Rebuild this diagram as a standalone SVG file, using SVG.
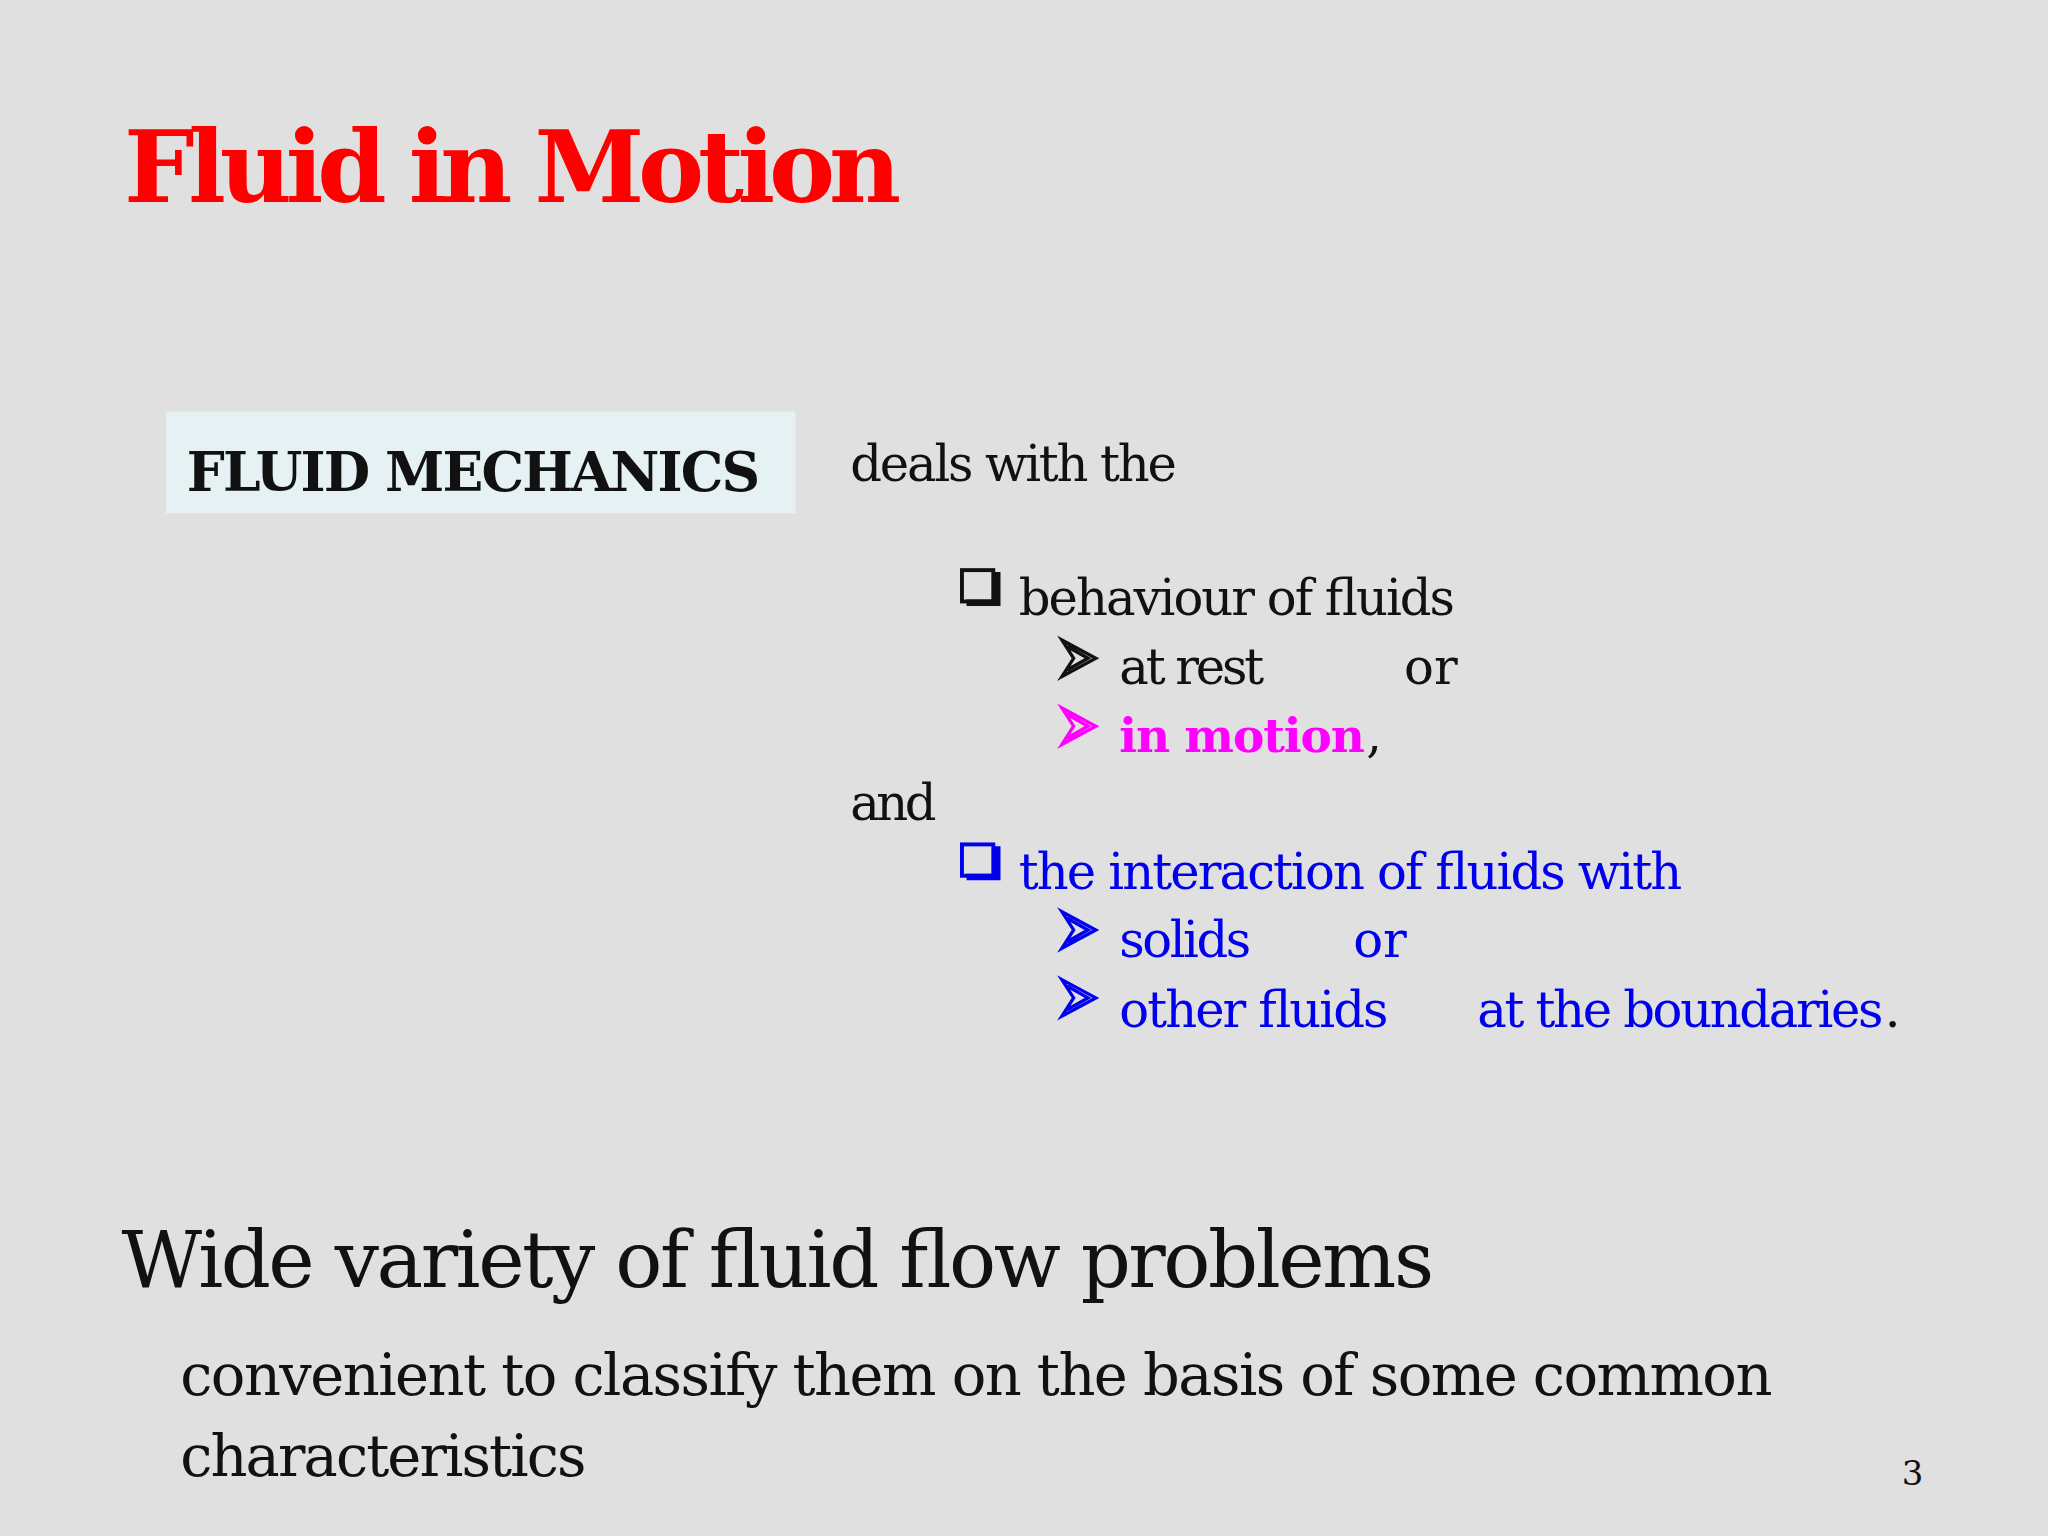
<svg xmlns="http://www.w3.org/2000/svg" width="2048" height="1536" viewBox="0 0 2048 1536">
<style>
text{font-family:"DejaVu Serif","Liberation Serif",serif}
.b{font-size:38px;fill:#111}
.bl{font-size:38px;fill:#0000ee}
</style>
<defs>
<g id="box"><rect x="1.5" y="1.5" width="24" height="24" fill="none" stroke="currentColor" stroke-width="3"/><path d="M5 26.5h23.5v-23.5" fill="none" stroke="currentColor" stroke-width="5"/></g>
<path id="arr" d="M0 0 L26 14 L0 28 L9 14 Z M4 5 L20 14 L4 23" fill="none" stroke="currentColor" stroke-width="2.5" stroke-linejoin="miter"/>
</defs>
<rect width="2048" height="1536" fill="#e0e0e0"/>
<g transform="scale(1.30612)">
<g id="title"><text x="95" y="155" font-size="76" font-weight="bold" fill="#ff0000" textLength="595">Fluid in Motion</text></g>
<g id="fm"><rect x="127" y="315" width="482" height="78" fill="#e6f1f3"/><text x="143" y="376" font-size="41" font-weight="bold" fill="#111" textLength="439">FLUID MECHANICS</text></g>
<g id="body">
<text class="b" x="651" y="368" textLength="250">deals with the</text>
<use href="#box" x="735" y="435" color="#111"/>
<text class="b" x="780" y="471" textLength="334">behaviour of fluids</text>
<use href="#arr" x="813" y="490" color="#111"/>
<text class="b" x="857" y="524" textLength="111">at rest</text>
<text class="b" x="1075" y="524">or</text>
<use href="#arr" x="813" y="542" color="#ff00ff"/>
<text x="857" y="576" font-size="36" font-weight="bold" fill="#ff00ff" textLength="188">in motion</text>
<text class="b" x="1046" y="576">,</text>
<text class="b" x="651" y="628" textLength="66">and</text>
<use href="#box" x="735" y="645" color="#0000ee"/>
<text class="bl" x="780" y="681" textLength="508">the interaction of fluids with</text>
<use href="#arr" x="813" y="698" color="#0000ee"/>
<text class="bl" x="857" y="733" textLength="101">solids</text>
<text class="bl" x="1036" y="733">or</text>
<use href="#arr" x="813" y="750" color="#0000ee"/>
<text class="bl" x="857" y="786" textLength="206">other fluids</text>
<text class="bl" x="1131" y="786" textLength="311">at the boundaries</text>
<text class="b" x="1443" y="786">.</text>
</g>
<g id="bottom">
<text x="93" y="985" font-size="60" fill="#111" textLength="1005">Wide variety of fluid flow problems</text>
<text x="138" y="1068" font-size="44" fill="#111" textLength="1219">convenient to classify them on the basis of some common</text>
<text x="138" y="1130" font-size="44" fill="#111" textLength="311">characteristics</text>
<text x="1456" y="1137" font-size="26" fill="#111">3</text>
</g>
</g>
</svg>
